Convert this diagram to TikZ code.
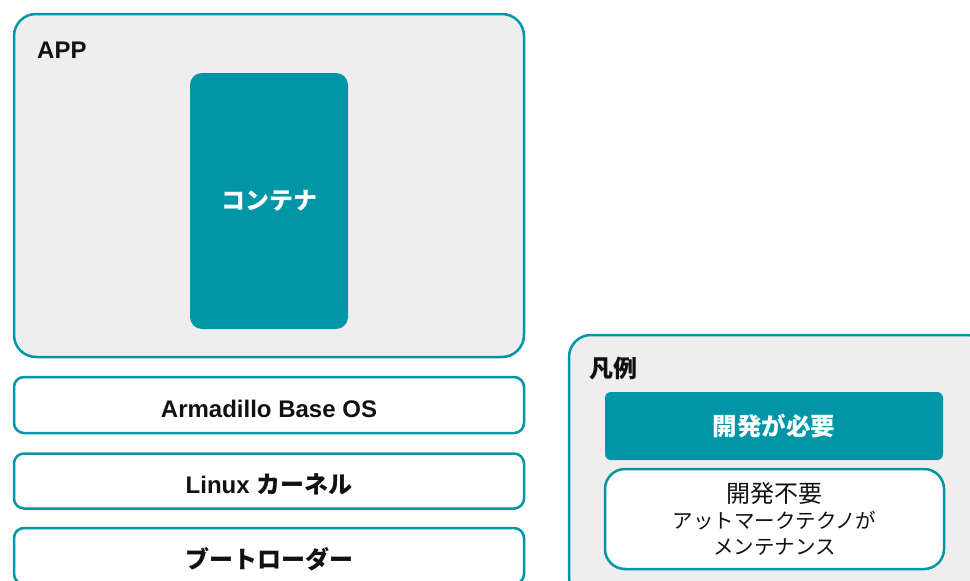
\documentclass[tikz,border=0pt]{standalone}
\usepackage{fontspec}
\setmainfont{Liberation Sans}
\newfontfamily\jpfont{Noto Sans CJK JP}
\usetikzlibrary{positioning}
\definecolor{ArmTeal}{RGB}{0,150,167}
\definecolor{ArmGray}{RGB}{238,238,238}
\definecolor{ArmInk}{RGB}{17,17,17}
\tikzset{
  arm/frame/.style={
    draw=ArmTeal,
    line width=2.5pt,
    rounded corners=22pt,
    fill=ArmGray,
    inner sep=0pt
  },
  arm/layer/.style={
    draw=ArmTeal,
    line width=2.5pt,
    rounded corners=10pt,
    fill=white,
    align=center,
    text=ArmInk,
    minimum width=510pt,
    inner sep=0pt,
    text height=24pt,
    text depth=0pt,
    font=\bfseries\fontsize{24}{28}\selectfont
  },
  arm/dev/.style={
    draw=none,
    rounded corners=6pt,
    fill=ArmTeal,
    align=center,
    text=white,
    inner sep=0pt,
    font=\jpfont\bfseries\fontsize{24.5}{28}\selectfont
  },
  arm/nodev/.style={
    draw=ArmTeal,
    line width=2.5pt,
    rounded corners=20pt,
    fill=white,
    align=center,
    text=ArmInk,
    inner sep=0pt,
    font=\jpfont\fontsize{20.5}{26}\selectfont
  },
  arm/title/.style={font=\bfseries\fontsize{24}{28}\selectfont, text=ArmInk, anchor=west, inner sep=0pt}
}
\begin{document}
\begin{tikzpicture}[x=1pt,y=-1pt]
  \useasboundingbox (0,0) rectangle (970,581);
  \clip (0,0) rectangle (970,581);
  \node[arm/frame,minimum width=510pt,minimum height=343pt] (app) at (269,185.5) {};
  \node[arm/title] (applabel) at (37,50) {APP};
  \node[arm/dev,rounded corners=12pt,minimum width=158pt,minimum height=256pt,font=\jpfont\bfseries\fontsize{24}{28}\selectfont] (cont) at (269,201) {コンテナ};
  \node[arm/layer,minimum height=56pt] (os) at (269,405) {Armadillo Base OS};
  \node[arm/layer,minimum height=55pt,below=18pt of os] (kernel) {Linux {\jpfont カーネル}};
  \node[arm/layer,minimum height=56pt,below=17pt of kernel] (boot) {\jpfont ブートローダー};
  \node[arm/frame,minimum width=420pt,minimum height=264pt] (legend) at (779,467) {};
  \node[arm/title,font=\jpfont\bfseries\fontsize{24}{28}\selectfont] (legendlabel) at (589,368) {凡例};
  \node[arm/dev,minimum width=338pt,minimum height=68pt] (dev) at (774,426) {開発が必要};
  \node[arm/nodev,minimum width=339pt,minimum height=100pt] (nodev) at (774.5,519)
    {{\fontsize{24}{28}\selectfont 開発不要}\\アットマークテクノが\\メンテナンス};
\end{tikzpicture}
\end{document}
